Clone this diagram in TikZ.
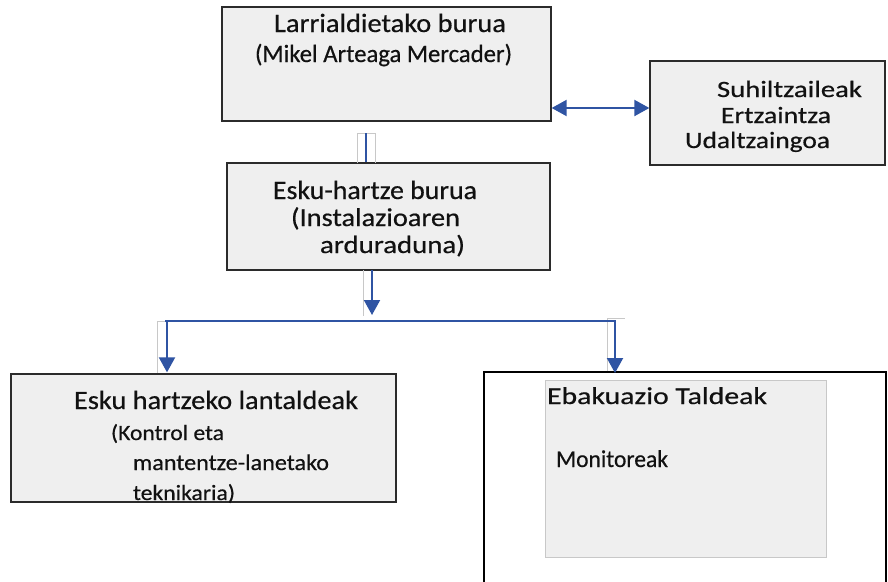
\documentclass[tikz,border=0pt]{standalone}
\usepackage{fontspec}
\setmainfont{Carlito}[RawFeature={embolden=0.5}]
\usetikzlibrary{arrows.meta}
\definecolor{boxfill}{HTML}{EFEFEF}
\definecolor{boxline}{HTML}{2B2B2B}
\definecolor{conn}{HTML}{2F54A3}
\definecolor{ghostc}{HTML}{C8C8C8}
\definecolor{ink}{HTML}{111111}
\tikzset{
  box/.style={draw=boxline, line width=1.3pt, fill=boxfill, rectangle, inner sep=0pt},
  outerbox/.style={draw=black, line width=2pt, fill=white, rectangle, inner sep=0pt},
  innerbox/.style={draw=ghostc, line width=0.8pt, fill=boxfill, rectangle, inner sep=0pt},
  txt/.style={anchor=base west, inner sep=0pt, outer sep=0pt, text=ink},
  link/.style={draw=conn, line width=2pt},
  buslink/.style={draw=conn, line width=1.2pt},
  arr/.style={link, -{Triangle[length=15pt,width=16pt]}},
  darr/.style={link, {Triangle[length=15pt,width=16pt]}-{Triangle[length=15pt,width=16pt]}},
  ghost/.style={draw=ghostc, line width=0.8pt},
}
% name, x, baseline y, width, cap height, text
\newcommand{\txtline}[6]{\node[txt] (#1) at (#2,#3) {\resizebox{#4pt}{#5pt}{\fontsize{28}{34}\selectfont\rule{0pt}{\fontcharht\font`H}\smash{#6}}};}
\begin{document}
\begin{tikzpicture}[x=1pt,y=-1pt]
\useasboundingbox (0,0) rectangle (888,581);
\clip (0,0) rectangle (888,581);
\fill[white] (0,0) rectangle (888,581);

% boxes
\node[box, minimum width=329pt, minimum height=114pt] (top) at (386.5,64) {};
\node[box, minimum width=235pt, minimum height=104pt] (right) at (767.5,113) {};
\node[box, minimum width=323pt, minimum height=107pt] (mid) at (388.5,216.5) {};
\node[box, minimum width=385pt, minimum height=128pt] (bl) at (203.5,438) {};
\node[outerbox, minimum width=402pt, minimum height=236pt] (br) at (685,490) {};
\node[innerbox, minimum width=281pt, minimum height=177pt] (bri) at (685.5,468.5) {};

% ghost outlines around connectors
\draw[ghost] (357,163) -- (357,133) -- (375,133) -- (375,163);
\draw[ghost] (363,270) -- (363,316);
\draw[ghost] (157,373) -- (157,321) -- (167,321);
\draw[ghost] (607,371) -- (607,318) -- (625,318);

% connectors
\coordinate (c1) at (366,133);
\draw[link] (c1) -- (c1 |- mid.north);
\coordinate (c2) at (372,270);
\coordinate (c2e) at (372,315);
\draw[arr] (c2) -- (c2e);
\coordinate (busL) at (165,321);
\coordinate (busR) at (616,321);
\draw[buslink] (busL) -- (busR);
\coordinate (b1) at (167,321);
\draw[arr] (b1) -- ([yshift=1pt]b1 |- bl.north);
\coordinate (b2) at (615,321);
\draw[arr] (b2) -- ([yshift=-2pt]b2 |- br.north);
\coordinate (dy) at (0,108);
\draw[darr] (top.east |- dy) -- (right.west |- dy);

% texts
\txtline{t1}{274}{32}{232}{17}{Larrialdietako burua}
\txtline{t2}{255}{62}{257}{16}{(Mikel Arteaga Mercader)}
\txtline{r1}{717}{97}{145}{15}{Suhiltzaileak}
\txtline{r2}{721}{123}{110}{15}{Ertzaintza}
\txtline{r3}{685}{148}{145}{15}{Udaltzaingoa}
\txtline{m1}{273}{199}{204}{17}{Esku-hartze burua}
\txtline{m2}{291}{226}{169}{16.5}{(Instalazioaren}
\txtline{m3}{320}{253}{145}{16}{arduraduna)}
\txtline{b1t}{74}{409}{284}{17}{Esku hartzeko lantaldeak}
\txtline{b2t}{111}{440}{113}{14}{(Kontrol eta}
\txtline{b3t}{133}{470}{196}{14.5}{mantentze-lanetako}
\txtline{b4t}{133}{500}{102}{14}{teknikaria)}
\txtline{e1}{547}{404}{220}{15.5}{Ebakuazio Taldeak}
\txtline{e2}{556}{467}{112}{15.5}{Monitoreak}
\end{tikzpicture}
\end{document}
